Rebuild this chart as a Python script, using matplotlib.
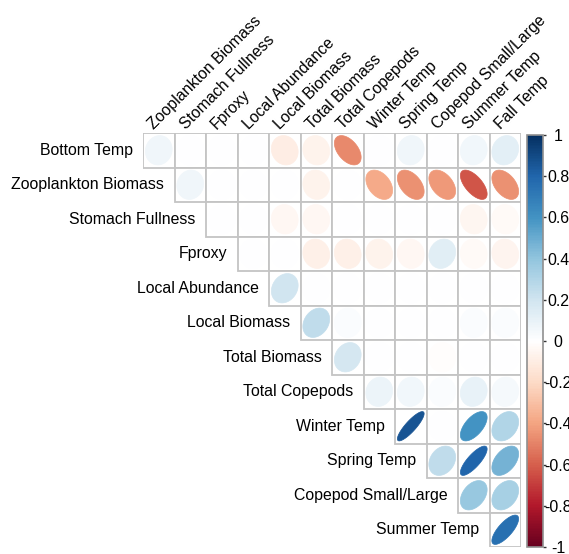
import numpy as np
import matplotlib
matplotlib.use('Agg')
import matplotlib.pyplot as plt
from matplotlib.colors import LinearSegmentedColormap
from matplotlib.patches import Polygon, Rectangle

plt.rcParams['font.family'] = ['Liberation Sans', 'DejaVu Sans']

# ETYKIETY
row_labels = ['Bottom Temp', 'Zooplankton Biomass', 'Stomach Fullness', 'Fproxy',
              'Local Abundance', 'Local Biomass', 'Total Biomass', 'Total Copepods',
              'Winter Temp', 'Spring Temp', 'Copepod Small/Large', 'Summer Temp']
col_labels = ['Zooplankton Biomass', 'Stomach Fullness', 'Fproxy', 'Local Abundance',
              'Local Biomass', 'Total Biomass', 'Total Copepods', 'Winter Temp',
              'Spring Temp', 'Copepod Small/Large', 'Summer Temp', 'Fall Temp']

# KORELACJE - gorny trojkat, wiersz i zaczyna sie od kolumny i
bottom_temp = [0.07, 0, 0, 0, -0.10, -0.07, -0.48, 0, 0.07, 0, 0.06, 0.12]
zoo_biomass = [0.07, 0, 0, 0, -0.07, 0, -0.38, -0.46, -0.43, -0.63, -0.46]
stomach_full = [0, 0, -0.04, -0.04, 0, 0, 0, 0, -0.05, -0.03]
fproxy = [0, 0, -0.08, -0.08, -0.07, -0.04, 0.13, -0.03, -0.06]
local_abund = [0.20, 0, 0, 0, 0, 0, 0, 0]
local_biomass = [0.25, 0.02, 0, 0, 0, 0.02, 0.02]
total_biomass = [0.18, 0, 0, -0.01, 0, 0]
total_copepods = [0.08, 0.06, 0.02, 0.10, 0.04]
winter_temp = [0.86, 0, 0.60, 0.30]
spring_temp = [0.25, 0.80, 0.47]
copepod_sl = [0.38, 0.33]
summer_temp = [0.75]

rows = [bottom_temp, zoo_biomass, stomach_full, fproxy, local_abund, local_biomass,
        total_biomass, total_copepods, winter_temp, spring_temp, copepod_sl, summer_temp]

cmap = LinearSegmentedColormap.from_list('rdbu', ['#67001F', '#B2182B', '#D6604D', '#F4A582',
                                                  '#FDDBC7', '#FFFFFF', '#D1E5F0', '#92C5DE',
                                                  '#4393C3', '#2166AC', '#053061'])

W, H = 569, 554
fig = plt.figure(figsize=(W / 100, H / 100), dpi=100)
ax = fig.add_axes([143 / W, 1 - 547 / H, 378 / W, 414 / H])
ax.set_xlim(0, 12)
ax.set_ylim(0, 12)
ax.axis('off')

n = len(rows)
k = np.linspace(0, 2 * np.pi, 99)
fs = 11.4

for i, vals in enumerate(rows):
    yc = n - 1 - i + 0.5
    for m, r in enumerate(vals):
        j = i + m
        ax.add_patch(Rectangle((j, n - 1 - i), 1, 1, facecolor='white',
                               edgecolor='#C4C4C4', lw=1.3, zorder=1))
        # elipsa jak w corrplot
        phi = np.arccos(r) / 2
        ex = j + 0.5 + 0.425 * np.cos(k + phi)
        ey = yc + 0.425 * np.cos(k - phi)
        c = cmap((r + 1) / 2)
        ax.add_patch(Polygon(np.column_stack([ex, ey]), closed=True,
                             facecolor=c, edgecolor=c, lw=0.5, zorder=2))
    ax.text(i - 0.33, yc, row_labels[i], ha='right', va='center', fontsize=fs, color='black')

for j, lab in enumerate(col_labels):
    ax.text(j + 0.42, 12.03, lab, rotation=45, rotation_mode='anchor',
            ha='left', va='bottom', fontsize=fs, color='black')

# LEGENDA KOLOROW
cax = fig.add_axes([527 / W, 1 - 547 / H, 16 / W, 412 / H])
sm = plt.cm.ScalarMappable(cmap=cmap, norm=plt.Normalize(-1, 1))
cb = fig.colorbar(sm, cax=cax)
ticks = np.round(np.arange(-1, 1.01, 0.2), 1)
cb.set_ticks(ticks)
cb.set_ticklabels(['%g' % t if t != 0 else '0' for t in ticks])
cb.outline.set_edgecolor('#909090')
cb.outline.set_linewidth(1.2)
cax.tick_params(length=2.5, width=1, color='#333333', pad=8.5, labelsize=fs)
for t in cax.get_yticklabels():
    t.set_ha('center')

fig.savefig('out.png', dpi=100)
